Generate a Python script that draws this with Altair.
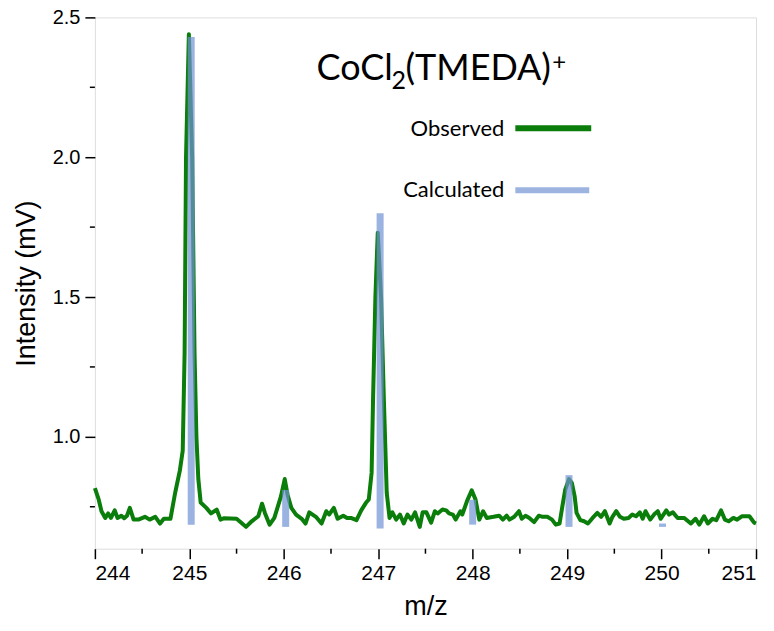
import altair as alt
import pandas as pd

# Observed trace (m/z, intensity in mV)
obs_mz = [244.00, 244.04, 244.07, 244.11, 244.14, 244.17, 244.21, 244.24, 244.28, 244.31,
          244.34, 244.37, 244.41, 244.46, 244.53, 244.58, 244.64, 244.69, 244.73, 244.80,
          244.85, 244.90, 244.93, 244.95, 244.965, 244.995, 245.03, 245.055, 245.075, 245.095,
          245.12, 245.18, 245.23, 245.29, 245.33, 245.37, 245.50, 245.55, 245.60, 245.66,
          245.73, 245.77, 245.80, 245.85, 245.90, 245.97, 246.01, 246.04, 246.08, 246.13,
          246.19, 246.23, 246.27, 246.34, 246.40, 246.45, 246.48, 246.53, 246.57, 246.63,
          246.67, 246.71, 246.77, 246.82, 246.87, 246.90, 246.93, 246.945, 246.97, 246.995,
          247.03, 247.06, 247.09, 247.12, 247.15, 247.19, 247.23, 247.27, 247.31, 247.35,
          247.39, 247.44, 247.47, 247.51, 247.56, 247.60, 247.63, 247.68, 247.72, 247.75,
          247.79, 247.82, 247.87, 247.89, 247.94, 247.99, 248.03, 248.07, 248.11, 248.15,
          248.22, 248.28, 248.32, 248.36, 248.39, 248.44, 248.49, 248.52, 248.56, 248.60,
          248.65, 248.70, 248.74, 248.79, 248.84, 248.88, 248.92, 248.95, 248.98, 249.02,
          249.05, 249.08, 249.10, 249.14, 249.18, 249.22, 249.27, 249.32, 249.36, 249.40,
          249.45, 249.48, 249.52, 249.56, 249.60, 249.65, 249.69, 249.73, 249.77, 249.80,
          249.83, 249.88, 249.92, 249.96, 249.99, 250.05, 250.08, 250.12, 250.17, 250.24,
          250.31, 250.36, 250.40, 250.45, 250.49, 250.54, 250.58, 250.63, 250.67, 250.71,
          250.76, 250.80, 250.85, 250.93, 250.98, 251.00]
obs_int = [0.817, 0.776, 0.734, 0.710, 0.726, 0.710, 0.737, 0.710, 0.718, 0.709,
           0.718, 0.746, 0.704, 0.704, 0.714, 0.704, 0.714, 0.690, 0.707, 0.707,
           0.800, 0.880, 0.950, 1.300, 2.000, 2.440, 2.000, 1.300, 1.000, 0.850,
           0.765, 0.746, 0.726, 0.740, 0.704, 0.709, 0.707, 0.693, 0.678, 0.698,
           0.716, 0.761, 0.728, 0.686, 0.710, 0.787, 0.849, 0.793, 0.746, 0.722,
           0.707, 0.690, 0.730, 0.714, 0.690, 0.734, 0.722, 0.746, 0.707, 0.718,
           0.710, 0.710, 0.702, 0.737, 0.764, 0.776, 0.871, 1.130, 1.500, 1.730,
           1.500, 1.130, 0.800, 0.710, 0.730, 0.704, 0.722, 0.690, 0.722, 0.704,
           0.730, 0.678, 0.730, 0.730, 0.693, 0.734, 0.726, 0.740, 0.737, 0.726,
           0.722, 0.704, 0.734, 0.722, 0.770, 0.809, 0.776, 0.704, 0.734, 0.710,
           0.714, 0.718, 0.704, 0.718, 0.704, 0.714, 0.734, 0.707, 0.718, 0.710,
           0.695, 0.718, 0.714, 0.714, 0.704, 0.686, 0.690, 0.752, 0.811, 0.849,
           0.835, 0.787, 0.728, 0.702, 0.698, 0.690, 0.710, 0.728, 0.714, 0.734,
           0.690, 0.714, 0.734, 0.714, 0.707, 0.710, 0.722, 0.716, 0.730, 0.707,
           0.734, 0.704, 0.722, 0.734, 0.707, 0.737, 0.722, 0.730, 0.710, 0.710,
           0.690, 0.707, 0.686, 0.716, 0.690, 0.707, 0.702, 0.737, 0.704, 0.698,
           0.710, 0.704, 0.716, 0.716, 0.693, 0.690]

# Calculated stick spectrum
calc_mz = [245.02, 246.02, 247.02, 248.00, 249.02, 250.01]
calc_top = [2.43, 0.81, 1.80, 0.775, 0.863, 0.690]
calc_base = [0.686, 0.678, 0.672, 0.686, 0.678, 0.678]

x_major = [244, 245, 246, 247, 248, 249, 250, 251]
x_minor = [244.5, 245.5, 246.5, 247.5, 248.5, 249.5, 250.5]
y_major = [1.0, 1.5, 2.0, 2.5]
y_minor = [0.75, 1.25, 1.75, 2.25]

# Title pieces: CoCl + subscript 2 + (TMEDA) + superscript +
title_main = "CoCl"
title_sub = "2"
title_rest = "(TMEDA)"
title_sup = "+"
legend_labels = ["Observed", "Calculated"]

W, H = 662, 532
GREEN = "#0a7d0a"
BLUE = "#7193d4"
BLUE_LEG = "#9db4e1"
AX_FONT = "Liberation Sans, Arial, sans-serif"
TXT_FONT = "Lato"

obs = pd.DataFrame({"mz": obs_mz, "intensity": obs_int})
calc = pd.DataFrame({"mz": calc_mz, "top": calc_top, "base": calc_base})
xmin = pd.DataFrame({"v": x_minor})
ymin = pd.DataFrame({"v": y_minor})
one = pd.DataFrame({"k": [0]})

xscale = alt.Scale(domain=[244, 251], nice=False, zero=False)
yscale = alt.Scale(domain=[0.6, 2.5], nice=False, zero=False)

xaxis = alt.Axis(values=x_major, format="d", title="m/z", grid=False, domain=False,
                 tickSize=10, tickWidth=1.5, tickColor="black",
                 labelFont=AX_FONT, labelFontSize=21, labelColor="black", labelPadding=4,
                 titleFont=AX_FONT, titleFontSize=27, titleFontWeight="normal",
                 titleColor="black", titleX=W / 2, titleY=66, titleBaseline="alphabetic",
                 titleAlign="center")
yaxis = alt.Axis(values=y_major, format=".1f", title="Intensity (mV)", grid=False, domain=False,
                 tickSize=10, tickWidth=1.5, tickColor="black",
                 labelFont=AX_FONT, labelFontSize=20, labelColor="black", labelPadding=5,
                 titleFont=AX_FONT, titleFontSize=27, titleFontWeight="normal",
                 titleColor="black", titleX=-60, titleY=266, titleAngle=270,
                 titleBaseline="alphabetic", titleAlign="center")

line = alt.Chart(obs).mark_line(color=GREEN, strokeWidth=4, strokeJoin="round").encode(
    x=alt.X("mz:Q", scale=xscale, axis=xaxis),
    y=alt.Y("intensity:Q", scale=yscale, axis=yaxis),
)

sticks = alt.Chart(calc).mark_rule(color=BLUE, strokeWidth=7, opacity=0.7, strokeCap="butt").encode(
    x="mz:Q", y="base:Q", y2="top:Q"
)

xminor = alt.Chart(xmin).mark_rule(color="black", strokeWidth=1.5).encode(
    x="v:Q", y=alt.value(H), y2=alt.value(H + 5)
)
yminor = alt.Chart(ymin).mark_rule(color="black", strokeWidth=1.5).encode(
    y="v:Q", x=alt.value(-5), x2=alt.value(0)
)


def txt(s, x, y, size, align="left"):
    return alt.Chart(one).mark_text(font=TXT_FONT, fontSize=size, align=align,
                                    baseline="alphabetic", color="black").encode(
        x=alt.value(x), y=alt.value(y), text=alt.value(s))


t1 = txt(title_main, 222, 63, 36)
t2 = txt(title_sub, 297, 72, 25)
t3 = txt(title_rest, 311, 63, 36)
t4 = txt(title_sup, 458, 53, 24)

leg_obs_txt = txt(legend_labels[0], 410, 119, 22, "right")
leg_obs_line = alt.Chart(one).mark_rule(color=GREEN, strokeWidth=6, strokeCap="butt").encode(
    x=alt.value(421), x2=alt.value(497), y=alt.value(111))
leg_calc_txt = txt(legend_labels[1], 410, 180, 22, "right")
leg_calc_line = alt.Chart(one).mark_rule(color=BLUE_LEG, strokeWidth=6, strokeCap="butt").encode(
    x=alt.value(421), x2=alt.value(495), y=alt.value(173))

chart = alt.layer(
    line, sticks, xminor, yminor, t1, t2, t3, t4,
    leg_obs_txt, leg_obs_line, leg_calc_txt, leg_calc_line
).properties(
    width=W, height=H,
    autosize=alt.AutoSizeParams(type="none"),
    padding={"left": 87, "top": 9, "right": 10, "bottom": 74},
).configure_view(
    stroke="black", strokeWidth=1.5
).configure(background="white")

chart.save("out.html", embed_options={"renderer": "svg", "actions": False})
